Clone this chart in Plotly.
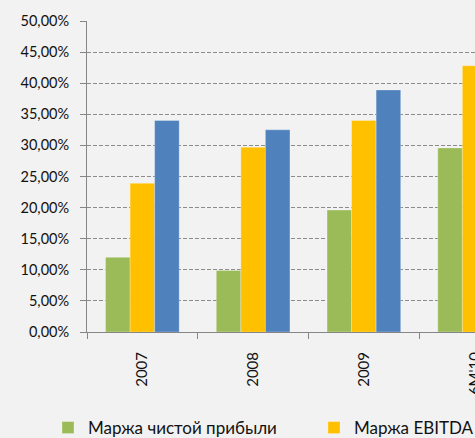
import plotly.graph_objects as go

# Margins by period, %
periods = ["2007", "2008", "2009", "6M'10"]
net_margin = [12.0, 9.9, 19.6, 29.6]
ebitda_margin = [23.9, 29.7, 34.0, 42.8]
gross_margin = [34.0, 32.5, 38.9, 46.5]

series_names = ["Маржа чистой прибыли", "Маржа EBITDA", "Маржа валовой прибыли"]
series_values = [net_margin, ebitda_margin, gross_margin]
series_colors = ["#9BBB59", "#FFC000", "#4F81BD"]

y_ticks = [0, 5, 10, 15, 20, 25, 30, 35, 40, 45, 50]
y_tick_text = [f"{v:.2f}%".replace(".", ",") for v in y_ticks]

FONT = "Lato"
FIG_W = 1000
FIG_H = 438
PLOT_L = 87
PLOT_W = 886          # 8 category slots of ~110.75 px; the chart runs past the page edge

fig = go.Figure()
for name, vals, color in zip(series_names, series_values, series_colors):
    fig.add_trace(go.Bar(
        x=periods, y=vals, name=name,
        marker=dict(color=color, line=dict(color="rgba(255,255,255,0.45)", width=0.6)),
    ))

fig.update_layout(
    width=FIG_W, height=FIG_H,
    margin=dict(l=PLOT_L, r=FIG_W - PLOT_L - PLOT_W, t=19, b=106),
    paper_bgcolor="#F2F2F2", plot_bgcolor="#F2F2F2",
    barmode="group", bargap=0.335, bargroupgap=0,
    font=dict(family=FONT, size=15, color="#111111"),
    showlegend=True,
    legend=dict(
        orientation="h", xref="container", yref="container",
        x=48 / FIG_W, y=10 / FIG_H, xanchor="left", yanchor="middle",
        entrywidth=221, entrywidthmode="pixels",
        font=dict(family=FONT, size=17, color="#111111"),
        itemwidth=30, tracegroupgap=0, bgcolor="rgba(0,0,0,0)",
    ),
)

fig.update_yaxes(
    range=[0, 50], tickvals=y_ticks, ticktext=y_tick_text,
    tickfont=dict(size=14.5), ticklabelstandoff=8,
    showgrid=True, gridcolor="#8c8c8c", griddash="4px,2px", gridwidth=1,
    showline=True, linecolor="#868686", linewidth=1,
    ticks="outside", ticklen=6, tickcolor="#868686",
    zeroline=False, fixedrange=True,
)
fig.update_xaxes(
    type="category", categoryorder="array", categoryarray=periods,
    range=[-0.5, 7.5], tickangle=-90,
    showline=True, linecolor="#868686", linewidth=1,
    ticks="outside", ticklen=6, tickcolor="#868686", tickson="boundaries",
    ticklabelstandoff=13,
    showgrid=False, fixedrange=True,
)

fig.write_html("out.html", config={"displayModeBar": False})
